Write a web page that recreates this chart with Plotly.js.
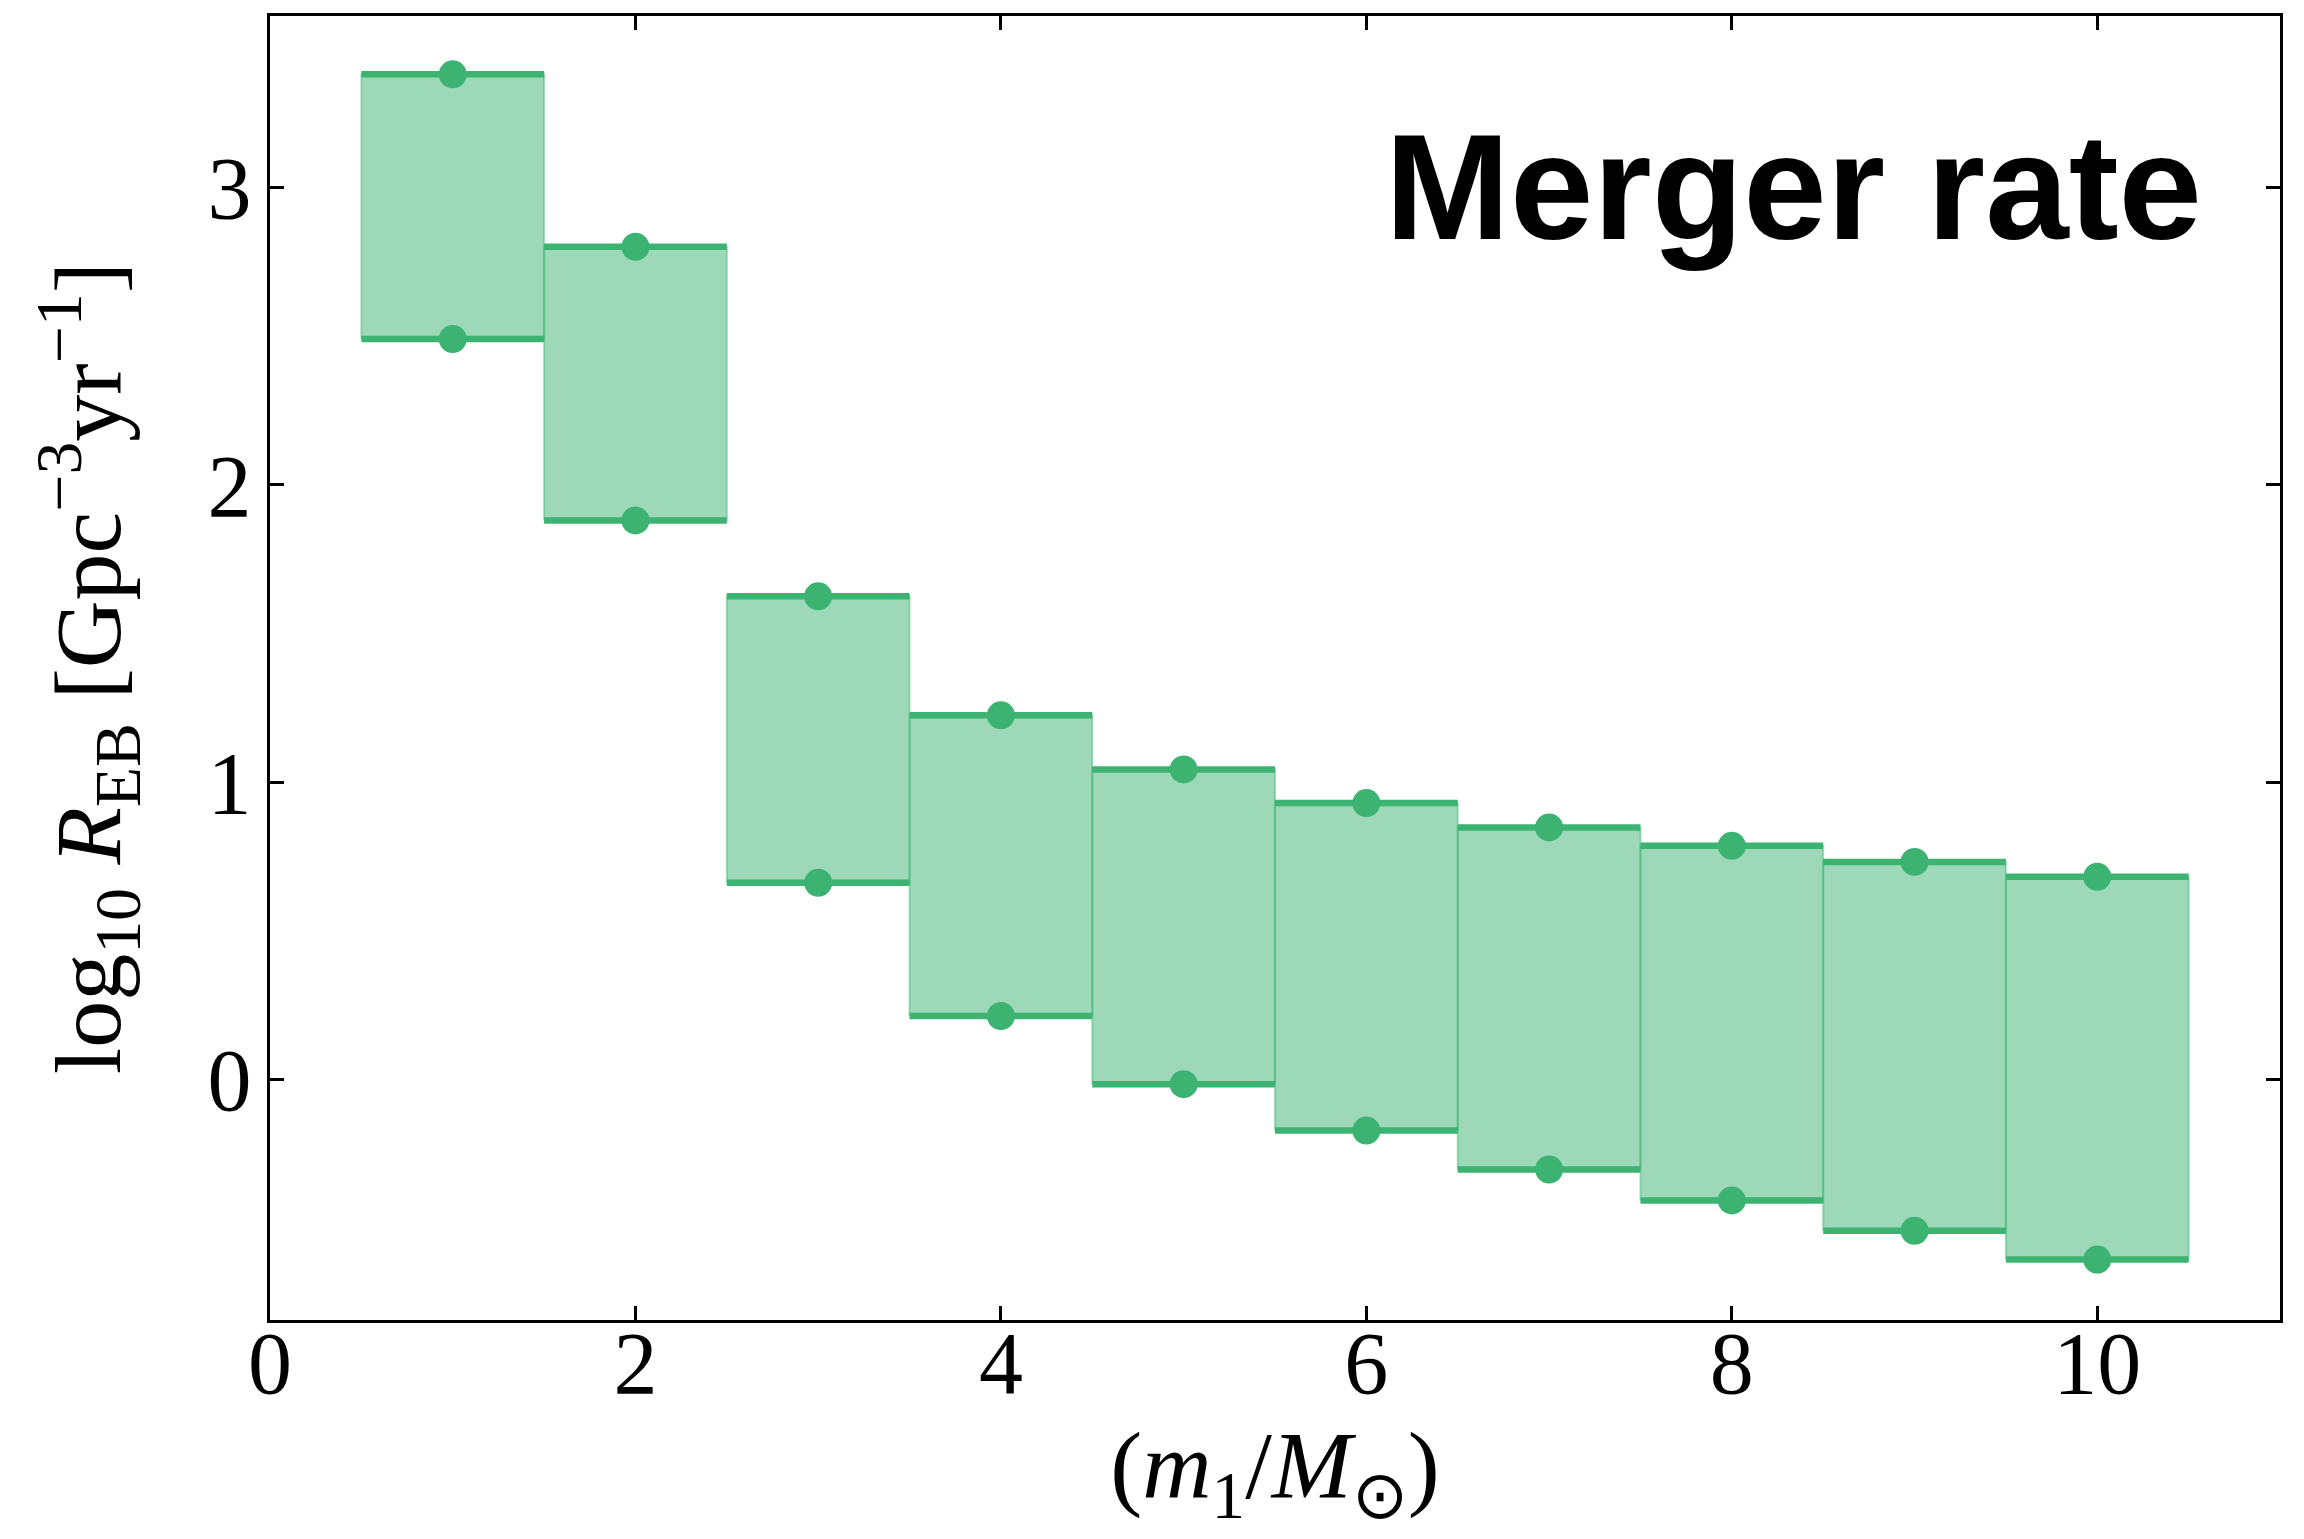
<!DOCTYPE html>
<html>
<head>
<meta charset="utf-8">
<script src="https://cdn.plot.ly/plotly-3.0.1.min.js"></script>
<style>
  html, body { margin: 0; padding: 0; background: #ffffff; }
  #chart { width: 2304px; height: 1539px; }
</style>
</head>
<body>
<div id="chart"></div>
<script>
// ---- data ----
const massBins = [1, 2, 3, 4, 5, 6, 7, 8, 9, 10];          // bin centres, m1 / Msun
const binWidth = 1;                                        // each bin spans centre +/- 0.5
const rateUpper = [3.38, 2.80, 1.625, 1.225, 1.043, 0.930, 0.848, 0.786, 0.732, 0.682];
const rateLower = [2.49, 1.88, 0.662, 0.214, -0.015, -0.171, -0.302, -0.406, -0.508, -0.605];
const xTickVals = [0, 2, 4, 6, 8, 10];
const yTickVals = [0, 1, 2, 3];
const panelLabel = 'Merger rate';

// ---- styles ----
const lineColor = 'rgb(60,179,113)';
const fillColor = 'rgba(60,179,113,0.5)';
const edgeColor = 'rgba(60,179,113,0.45)';
const serif = 'Liberation Serif, Times New Roman, serif';

const traces = [];

// shaded boxes
massBins.forEach((c, i) => {
  const a = c - binWidth / 2, b = c + binWidth / 2;
  traces.push({
    type: 'scatter', mode: 'lines',
    x: [a, b, b, a, a],
    y: [rateLower[i], rateLower[i], rateUpper[i], rateUpper[i], rateLower[i]],
    fill: 'toself', fillcolor: fillColor,
    line: { color: edgeColor, width: 2 },
    hoverinfo: 'skip', showlegend: false
  });
});

// upper and lower horizontal bars
const capX = [], capY = [];
massBins.forEach((c, i) => {
  const a = c - binWidth / 2, b = c + binWidth / 2;
  capX.push(a, b, null, a, b, null);
  capY.push(rateUpper[i], rateUpper[i], null, rateLower[i], rateLower[i], null);
});
traces.push({
  type: 'scatter', mode: 'lines', x: capX, y: capY,
  line: { color: lineColor, width: 6.5 },
  connectgaps: false, hoverinfo: 'skip', showlegend: false
});

// dots at bin centres
traces.push({
  type: 'scatter', mode: 'markers',
  x: massBins.concat(massBins),
  y: rateUpper.concat(rateLower),
  marker: { color: lineColor, size: 28, line: { width: 0 } },
  showlegend: false
});

const axisCommon = {
  showline: true, linecolor: 'black', linewidth: 3, mirror: 'ticks',
  ticks: 'inside', ticklen: 14, tickwidth: 3, tickcolor: 'black',
  showgrid: false, zeroline: false, automargin: true,
  tickfont: { family: serif, size: 88, color: 'black' }
};

const layout = {
  width: 2304, height: 1539,
  margin: { l: 270, r: 24, t: 16, b: 219 },
  paper_bgcolor: 'white', plot_bgcolor: 'white',
  showlegend: false,
  xaxis: Object.assign({}, axisCommon, {
    range: [0, 11], tickmode: 'array', tickvals: xTickVals,
    ticktext: xTickVals.map(String),
    ticklabelstandoff: -36,
    title: { text: '(<i>m</i><sub>1</sub>/<i>M</i><sub>⊙</sub>)',
             font: { family: serif, size: 96, color: 'black' }, standoff: 20 }
  }),
  yaxis: Object.assign({}, axisCommon, {
    range: [-0.808, 3.576], tickmode: 'array', tickvals: yTickVals,
    ticktext: yTickVals.map(String),
    ticklabelstandoff: -2,
    title: { text: 'log<sub>10</sub> <i>R</i><sub>EB</sub> [Gpc<sup>−3</sup>yr<sup>−1</sup>]',
             font: { family: serif, size: 94, color: 'black' }, standoff: 56 }
  }),
  annotations: [{
    text: panelLabel, xref: 'paper', yref: 'paper',
    x: 0.962, y: 0.869, xanchor: 'right', yanchor: 'middle',
    showarrow: false,
    font: { family: 'Liberation Sans, Arial, Helvetica, sans-serif', size: 150, weight: 'bold', color: 'black' }
  }]
};

Plotly.newPlot('chart', traces, layout, { staticPlot: true, displayModeBar: false });
</script>
</body>
</html>
